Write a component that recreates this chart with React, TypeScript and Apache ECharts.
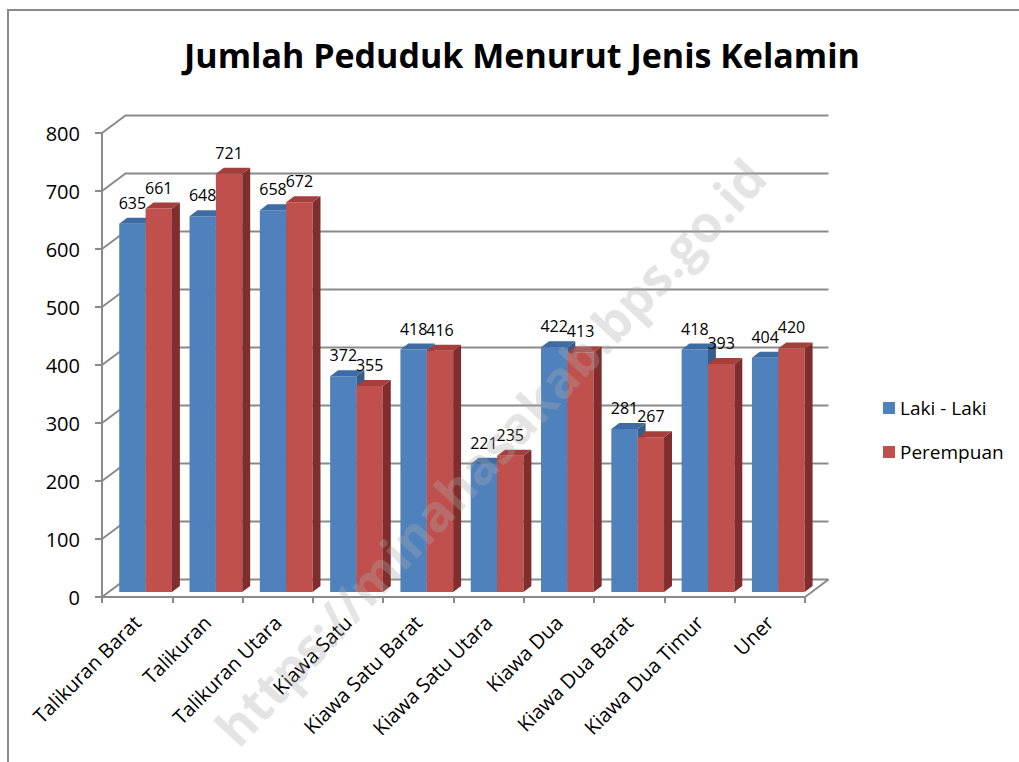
import React, { useEffect, useRef } from "react";
import * as echarts from "echarts";

const categories = [
  "Talikuran Barat",
  "Talikuran",
  "Talikuran Utara",
  "Kiawa Satu",
  "Kiawa Satu Barat",
  "Kiawa Satu Utara",
  "Kiawa Dua",
  "Kiawa Dua Barat",
  "Kiawa Dua Timur",
  "Uner",
];
const lakiLaki = [635, 648, 658, 372, 418, 221, 422, 281, 418, 404];
const perempuan = [661, 721, 672, 355, 416, 235, 413, 267, 393, 420];
const yTicks = [0, 100, 200, 300, 400, 500, 600, 700, 800];

const FONT = "'Open Sans', 'Liberation Sans', sans-serif";
const GRID_COLOR = "#8a8a8a";
const DEPTH_X = 23.5;
const DEPTH_Y = -17.5;

const palettes = [
  { front: "#4F81BD", side: "#385D8A", top: "#3D6BA3" },
  { front: "#C0504D", side: "#7E2E2C", top: "#A43F3C" },
];

function makeBarRender(seriesIdx: number) {
  return (params: any, api: any) => {
    const i = api.value(0);
    const v = api.value(1);
    const topPt = api.coord([i, v]);
    const basePt = api.coord([i, 0]);
    const bw = api.size([1, 0])[0];
    const cx = topPt[0];
    const w = bw * 0.375;
    const left = cx - bw * 0.255 + (seriesIdx === 0 ? 0 : w);
    const right = left + w;
    const lift = 5;
    const yT = topPt[1] - lift;
    const yB = basePt[1] - lift;
    const dx = bw * 0.113;
    const dy = -6;
    const pal = palettes[seriesIdx];
    return {
      type: "group",
      children: [
        {
          type: "rect",
          shape: { x: left, y: yT, width: w, height: yB - yT },
          style: { fill: pal.front },
        },
        {
          type: "polygon",
          shape: {
            points: [
              [right, yT],
              [right + dx, yT + dy],
              [right + dx, yB + dy],
              [right, yB],
            ],
          },
          style: { fill: pal.side },
        },
        {
          type: "polygon",
          shape: {
            points: [
              [left, yT],
              [left + dx, yT + dy],
              [right + dx, yT + dy],
              [right, yT],
            ],
          },
          style: { fill: pal.top },
        },
        {
          type: "text",
          style: {
            text: String(v),
            x: left + w / 2,
            y: yT - 13,
            align: "center",
            verticalAlign: "bottom",
            fontSize: 16,
            fontFamily: FONT,
            fill: "#000",
          },
        },
      ],
    };
  };
}

function wallRender(params: any, api: any) {
  const v = api.value(1);
  const p = api.coord([0, v]);
  const cs = params.coordSys;
  const xL = cs.x;
  const xR = cs.x + cs.width;
  const y = p[1];
  const children: any[] = [
    {
      type: "polyline",
      shape: {
        points: [
          [xL, y],
          [xL + DEPTH_X, y + DEPTH_Y],
          [xR + DEPTH_X, y + DEPTH_Y],
        ],
      },
      style: { stroke: GRID_COLOR, lineWidth: 2, fill: null },
    },
  ];
  if (v === 0) {
    children.push({
      type: "line",
      shape: { x1: xR, y1: y, x2: xR + DEPTH_X, y2: y + DEPTH_Y },
      style: { stroke: GRID_COLOR, lineWidth: 2 },
    });
  }
  return { type: "group", children };
}

export default function App() {
  const ref = useRef<HTMLDivElement>(null);

  useEffect(() => {
    if (!ref.current) return;
    const chart = echarts.init(ref.current, undefined, { renderer: "svg" });
    chart.setOption({
      animation: false,
      backgroundColor: "#ffffff",
      title: {
        text: "Jumlah Peduduk Menurut Jenis Kelamin",
        left: 517,
        top: 33,
        textAlign: "center",
        textStyle: {
          fontFamily: FONT,
          fontSize: 34,
          fontWeight: "bold",
          color: "#000",
        },
      },
      legend: {
        orient: "vertical",
        left: 878,
        top: 393,
        icon: "rect",
        itemWidth: 12,
        itemHeight: 12,
        itemGap: 24,
        textStyle: {
          fontFamily: FONT,
          fontSize: 19,
          lineHeight: 20,
          color: "#000",
        },
        data: ["Laki - Laki", "Perempuan"],
      },
      grid: { left: 102, right: 214, top: 133, bottom: 165 },
      xAxis: {
        type: "category",
        data: categories,
        boundaryGap: true,
        axisLine: { show: true, lineStyle: { color: GRID_COLOR, width: 2 } },
        axisTick: {
          show: true,
          interval: 0,
          length: 6,
          lineStyle: { color: GRID_COLOR, width: 2 },
        },
        axisLabel: {
          interval: 0,
          rotate: 45,
          margin: 22,
          fontSize: 20,
          fontFamily: FONT,
          color: "#000",
        },
        splitLine: { show: false },
      },
      yAxis: {
        type: "value",
        min: 0,
        max: 800,
        interval: 100,
        axisLine: { show: true, lineStyle: { color: GRID_COLOR, width: 2 } },
        axisTick: {
          show: true,
          length: 7,
          lineStyle: { color: GRID_COLOR, width: 2 },
        },
        axisLabel: {
          margin: 22,
          fontSize: 20,
          fontFamily: FONT,
          color: "#000",
        },
        splitLine: { show: false },
      },
      graphic: [
        {
          type: "polyline",
          shape: {
            points: [
              [8, 762],
              [8, 10],
              [1019, 10],
            ],
          },
          style: { stroke: "#8a8a8a", lineWidth: 2, fill: null },
          z: 1,
        },
        {
          type: "text",
          x: 490,
          y: 452,
          rotation: (47 * Math.PI) / 180,
          style: {
            text: "https://minahasakab.bps.go.id",
            align: "center",
            verticalAlign: "middle",
            fontSize: 51,
            fontWeight: "bold",
            fontFamily: FONT,
            fill: "rgba(170,170,170,0.32)",
          },
          z: 100,
        },
      ],
      series: [
        {
          name: "walls",
          type: "custom",
          renderItem: wallRender,
          data: yTicks.map((t) => [0, t]),
          encode: { x: 0, y: 1 },
          silent: true,
          z: 1,
        },
        {
          name: "Laki - Laki",
          type: "custom",
          renderItem: makeBarRender(0),
          data: lakiLaki.map((v, i) => [i, v]),
          encode: { x: 0, y: 1 },
          itemStyle: { color: "#4F81BD" },
          z: 2,
        },
        {
          name: "Perempuan",
          type: "custom",
          renderItem: makeBarRender(1),
          data: perempuan.map((v, i) => [i, v]),
          encode: { x: 0, y: 1 },
          itemStyle: { color: "#C0504D" },
          z: 3,
        },
      ],
    });
    return () => chart.dispose();
  }, []);

  return (
    <div
      ref={ref}
      style={{
        position: "fixed",
        left: 0,
        top: 0,
        width: 1019,
        height: 762,
        background: "#fff",
      }}
    />
  );
}
